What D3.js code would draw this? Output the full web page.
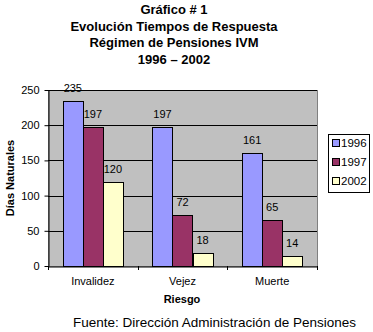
<!DOCTYPE html>
<html><head><meta charset="utf-8">
<script src="https://cdn.jsdelivr.net/npm/d3@7"></script>
<style>body{margin:0;background:#fff;}svg{display:block;}</style>
</head><body>
<script>
const categories = ["Invalidez", "Vejez", "Muerte"];
const seriesNames = ["1996", "1997", "2002"];
const values1996 = [235, 197, 161];
const values1997 = [197, 72, 65];
const values2002 = [120, 18, 14];
const yTicks = [0, 50, 100, 150, 200, 250];
const titleLines = ["Gráfico # 1", "Evolución Tiempos de Respuesta", "Régimen de Pensiones IVM", "1996 – 2002"];
const colors = ["#9999FF", "#993366", "#FFFFCC"];

(function () {
const series = [values1996, values1997, values2002];
const W = 373, H = 332;
const svg = d3.select("body").append("svg").attr("width", W).attr("height", H);
const font = "Arial, 'Liberation Sans', sans-serif";

const pL = 48, pR = 317, pT = 90, pB = 266;
const x = d3.scaleBand().domain(categories).range([pL, pR]).paddingInner(0).paddingOuter(0);
const xInner = d3.scaleBand().domain(seriesNames).range([0, x.bandwidth()]).paddingInner(0).paddingOuter(0.74);
const y = d3.scaleLinear().domain([0, 250]).range([pB, pT]);

// title
svg.append("g").selectAll("text").data(titleLines).join("text")
  .attr("x", 174).attr("y", (d, i) => 14 + i * 16.5)
  .attr("text-anchor", "middle").attr("font-family", font).attr("font-weight", "bold")
  .attr("font-size", 13).text(d => d);

// plot bg
svg.append("rect").attr("x", pL + 0.5).attr("y", pT + 0.5).attr("width", pR - pL).attr("height", pB - pT)
  .attr("fill", "#C0C0C0").attr("stroke", "#808080").attr("stroke-width", 1);

// gridlines
svg.append("g").selectAll("line").data(yTicks.filter(d => d > 0)).join("line")
  .attr("x1", pL).attr("x2", pR).attr("y1", d => Math.round(y(d)) + 0.5).attr("y2", d => Math.round(y(d)) + 0.5)
  .attr("stroke", "#000").attr("stroke-width", 1);

// bars
const data = [];
categories.forEach((c, i) => seriesNames.forEach((s, j) => data.push({c, s, v: series[j][i], j})));
const barG = svg.append("g");
barG.selectAll("rect").data(data).join("rect")
  .attr("x", d => Math.round(x(d.c) + xInner(d.s)) + 0.5)
  .attr("y", d => Math.round(y(d.v)) + 0.5)
  .attr("width", Math.round(xInner.bandwidth()))
  .attr("height", d => Math.round(y(0)) - Math.round(y(d.v)))
  .attr("fill", d => colors[d.j]).attr("stroke", "#000").attr("stroke-width", 1);

barG.selectAll("text").data(data).join("text")
  .attr("x", d => x(d.c) + xInner(d.s) + xInner.bandwidth() / 2)
  .attr("y", d => y(d.v) - 9)
  .attr("text-anchor", "middle").attr("font-family", font).attr("font-size", 11)
  .text(d => d.v);

// axes
const yAxis = svg.append("g").attr("transform", `translate(${pL + 0.5},0)`)
  .call(d3.axisLeft(y).tickValues(yTicks).tickSize(4).tickSizeOuter(0));
yAxis.select(".domain").attr("stroke", "#000");
yAxis.selectAll("text").attr("font-family", font).attr("font-size", 11).attr("fill", "#000").attr("dx", "-2");

const xAxis = svg.append("g").attr("transform", `translate(0,${pB + 0.5})`)
  .call(d3.axisBottom(x).tickSize(0).tickSizeOuter(0));
xAxis.select(".domain").attr("stroke", "#000");
xAxis.selectAll("text").attr("font-family", font).attr("font-size", 11).attr("fill", "#000").attr("dy", "1.45em");
svg.append("g").selectAll("line").data([pL, ...categories.map(c => x(c) + x.bandwidth())]).join("line")
  .attr("x1", d => Math.round(d) + 0.5).attr("x2", d => Math.round(d) + 0.5)
  .attr("y1", pB).attr("y2", pB + 4).attr("stroke", "#000");

// axis titles
svg.append("text").attr("x", 182).attr("y", 303).attr("text-anchor", "middle")
  .attr("font-family", font).attr("font-weight", "bold").attr("font-size", 11).text("Riesgo");
svg.append("text").attr("transform", "translate(14,178) rotate(-90)").attr("text-anchor", "middle")
  .attr("font-family", font).attr("font-weight", "bold").attr("font-size", 11).text("Días Naturales");

// legend
const lg = svg.append("g");
lg.append("rect").attr("x", 328.5).attr("y", 134.5).attr("width", 41).attr("height", 58)
  .attr("fill", "#fff").attr("stroke", "#000");
const li = lg.selectAll("g").data(seriesNames).join("g")
  .attr("transform", (d, i) => `translate(332,${143 + i * 19})`);
li.append("rect").attr("x", 0.5).attr("y", -3.5).attr("width", 7).attr("height", 7)
  .attr("fill", (d, i) => colors[i]).attr("stroke", "#000");
li.append("text").attr("x", 9).attr("y", 4).attr("font-family", font).attr("font-size", 11.5).text(d => d);

// footer
svg.append("text").attr("x", 214.5).attr("y", 327).attr("text-anchor", "middle")
  .attr("font-family", font).attr("font-size", 13.5).text("Fuente: Dirección Administración de Pensiones");
})();
</script>
</body></html>
